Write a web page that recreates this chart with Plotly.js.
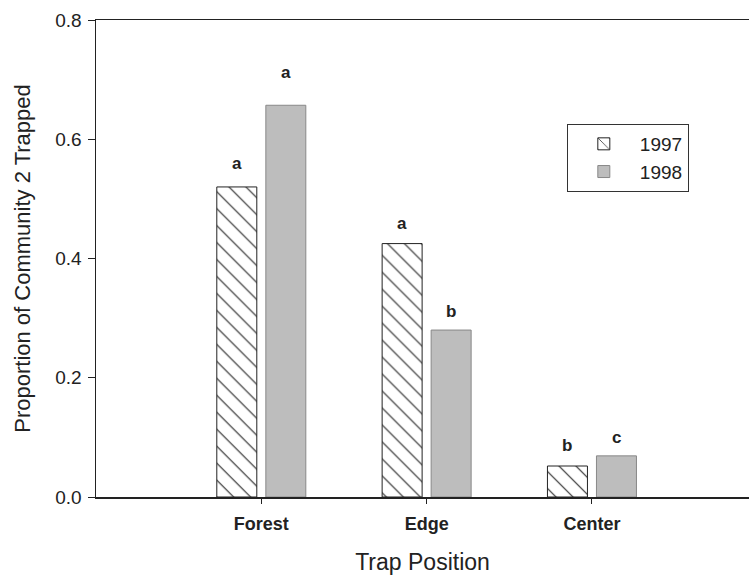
<!DOCTYPE html>
<html>
<head>
<meta charset="utf-8">
<script src="https://cdn.plot.ly/plotly-3.0.1.min.js"></script>
<style>html,body{margin:0;padding:0;background:#fff;}#chart{width:749px;height:575px;}</style>
</head>
<body>
<div id="chart"></div>
<script>
const categories = ["Forest", "Edge", "Center"];
const series1997 = [0.52, 0.425, 0.052];
const series1998 = [0.657, 0.28, 0.069];
const letters1997 = ["a", "a", "b"];
const letters1998 = ["a", "b", "c"];
const yTicks = [0.0, 0.2, 0.4, 0.6, 0.8];

const traces = [
  {
    type: "bar", name: "1997", x: categories, y: series1997,
    marker: {
      color: "#ffffff",
      line: {color: "#222222", width: 1},
      pattern: {shape: "\\", size: 12, solidity: 0.09, fgcolor: "#222222", bgcolor: "#ffffff"}
    }
  },
  {
    type: "bar", name: "1998", x: categories, y: series1998,
    marker: {color: "#bdbdbd", line: {color: "#888888", width: 1}}
  }
];

const annotations = [];
categories.forEach((c, i) => {
  annotations.push({x: c, y: series1997[i], text: "<b>" + letters1997[i] + "</b>", showarrow: false,
    xshift: -24.5, yshift: i === 0 ? 12 : 9, yanchor: "bottom", font: {size: 17, color: "#222"}});
  annotations.push({x: c, y: series1998[i], text: "<b>" + letters1998[i] + "</b>", showarrow: false,
    xshift: 24.5, yshift: i === 0 ? 21 : 7, yanchor: "bottom", font: {size: 17, color: "#222"}});
});

const layout = {
  width: 749, height: 575,
  margin: {l: 96, r: 0, t: 20, b: 78},
  paper_bgcolor: "#ffffff", plot_bgcolor: "#ffffff",
  font: {family: "Liberation Sans, Arial, sans-serif", color: "#222"},
  barmode: "group", bargap: 0.407, bargroupgap: 0.184,
  xaxis: {
    range: [-1, 2.95], showline: true, linecolor: "#222", linewidth: 1.5, mirror: true,
    ticks: "outside", ticklen: 5, tickcolor: "#222", showgrid: false, zeroline: false,
    ticklabelstandoff: 5,
    tickfont: {size: 18, color: "#222", weight: "bold"},
    title: {text: "Trap Position", font: {size: 23, color: "#222"}, standoff: 22}
  },
  yaxis: {
    range: [0, 0.8], tickvals: yTicks, tickformat: ".1f",
    showline: true, linecolor: "#222", linewidth: 1.5,
    ticks: "outside", ticklen: 7, tickcolor: "#222", showgrid: false, zeroline: false,
    ticklabelstandoff: 2,
    tickfont: {size: 19, color: "#222"},
    title: {text: "Proportion of Community 2 Trapped", font: {size: 22, color: "#222"}, standoff: 18}
  },
  legend: {
    x: 0.721, y: 0.782, xanchor: "left", yanchor: "top",
    bgcolor: "#ffffff", bordercolor: "#333", borderwidth: 1,
    font: {size: 19, color: "#222"}, itemwidth: 62
  },
  annotations: annotations
};

Plotly.newPlot("chart", traces, layout, {displayModeBar: false, staticPlot: true});
</script>
</body>
</html>
